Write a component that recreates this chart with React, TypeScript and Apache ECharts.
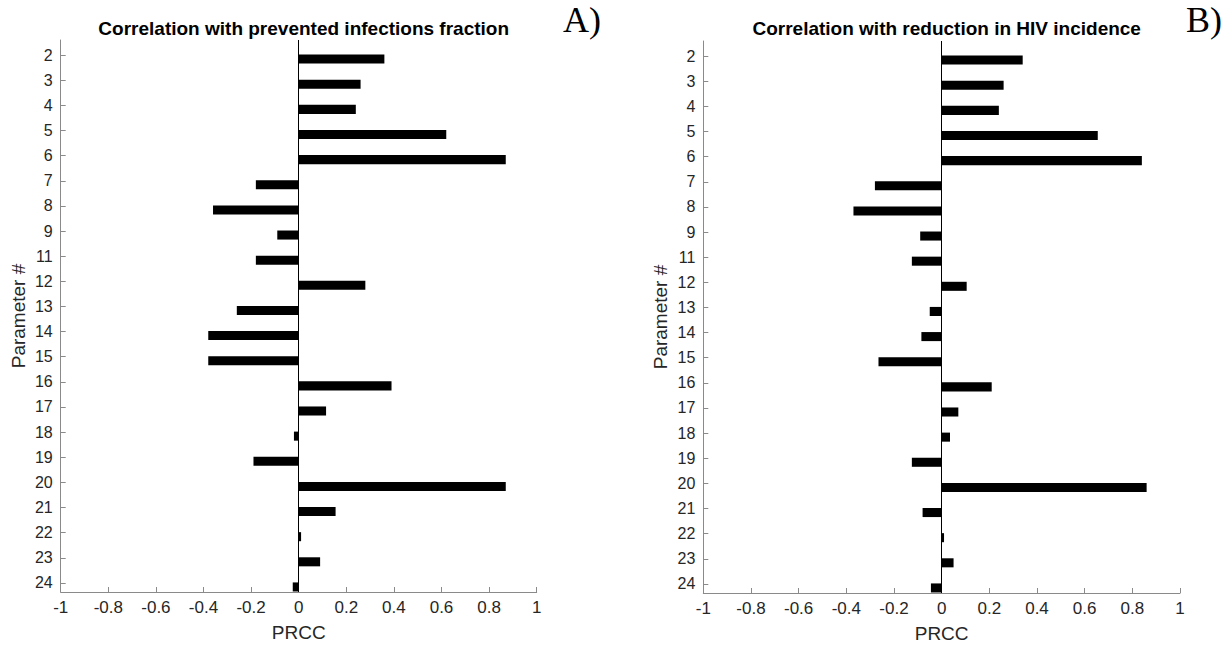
import React, { useEffect, useRef } from "react";
import * as echarts from "echarts";

const PARAMS = ["2", "3", "4", "5", "6", "7", "8", "9", "11", "12", "13", "14", "15", "16", "17", "18", "19", "20", "21", "22", "23", "24"];
const PREVENTED = [0.36, 0.26, 0.24, 0.62, 0.87, -0.18, -0.36, -0.09, -0.18, 0.28, -0.26, -0.38, -0.38, 0.39, 0.115, -0.02, -0.19, 0.87, 0.155, 0.01, 0.09, -0.025];
const REDUCTION = [0.34, 0.26, 0.24, 0.655, 0.84, -0.28, -0.37, -0.09, -0.125, 0.105, -0.05, -0.085, -0.265, 0.21, 0.07, 0.035, -0.125, 0.86, -0.08, 0.01, 0.05, -0.045];
const TITLES = ["Correlation with prevented infections fraction", "Correlation with reduction in HIV incidence"];
const PANEL_TAGS = ["A)", "B)"];
const X_NAME = "PRCC";
const Y_NAME = "Parameter #";

const FONT = "Liberation Sans, Arial, Helvetica, sans-serif";
const SERIF = "'Liberation Serif', 'Times New Roman', serif";
const AXIS_GRAY = "#8a8a8a";
const TEXT = "#262626";

const grids = [
  { left: 60.7, top: 40, width: 476, height: 552 },
  { left: 703.3, top: 41, width: 476.7, height: 552.3 },
];

const idxValues = PARAMS.map((_, i) => i);

function makeAxes(gi: number) {
  const xAxis = {
    type: "value",
    gridIndex: gi,
    position: "bottom",
    min: -1,
    max: 1,
    interval: 0.2,
    name: X_NAME,
    nameLocation: "middle",
    nameGap: 31,
    nameTextStyle: { fontFamily: FONT, fontSize: 19, color: TEXT },
    axisLine: { show: true, onZero: false, lineStyle: { color: AXIS_GRAY, width: 1 } },
    axisTick: { show: true, inside: true, length: 5, lineStyle: { color: AXIS_GRAY } },
    axisLabel: {
      fontFamily: FONT,
      fontSize: 17,
      color: TEXT,
      margin: 7,
      formatter: (v: number) => String(Math.round(v * 10) / 10),
    },
    splitLine: { show: false },
  };
  const yAxis = {
    type: "value",
    gridIndex: gi,
    position: "left",
    inverse: true,
    min: -0.6,
    max: 21.36,
    name: Y_NAME,
    nameLocation: "middle",
    nameGap: 33,
    nameTextStyle: { fontFamily: FONT, fontSize: 19, color: TEXT },
    axisLine: { show: true, onZero: false, lineStyle: { color: AXIS_GRAY, width: 1 } },
    axisTick: { show: true, inside: true, length: 5, customValues: idxValues, lineStyle: { color: AXIS_GRAY } },
    axisLabel: {
      fontFamily: FONT,
      fontSize: 16,
      color: TEXT,
      margin: 8,
      customValues: idxValues,
      formatter: (v: number) => PARAMS[Math.round(v)] ?? "",
    },
    splitLine: { show: false },
  };
  return { xAxis, yAxis };
}

const BAR_SHIFT = 4;

function renderBar(params: any, api: any) {
  const v = api.value(0);
  const idx = api.value(1);
  const p0 = api.coord([0, idx]);
  const p1 = api.coord([v, idx]);
  const h = api.size([0, 0.36])[1];
  return {
    type: "rect",
    shape: {
      x: Math.min(p0[0], p1[0]),
      y: p0[1] - h / 2 + BAR_SHIFT,
      width: Math.abs(p1[0] - p0[0]),
      height: h,
    },
    style: { fill: "#000" },
  };
}

function makeSeries(gi: number, values: number[]) {
  return {
    type: "custom",
    xAxisIndex: gi,
    yAxisIndex: gi,
    renderItem: renderBar,
    data: values.map((v, i) => [v, i]),
    markLine: {
      silent: true,
      symbol: "none",
      label: { show: false },
      lineStyle: { color: "#000", width: 1, type: "solid" },
      data: [{ xAxis: 0 }],
    },
  };
}

export default function App() {
  const ref = useRef<HTMLDivElement>(null);
  useEffect(() => {
    if (!ref.current) return;
    const chart = echarts.init(ref.current, undefined, { renderer: "svg" });
    const a0 = makeAxes(0);
    const a1 = makeAxes(1);
    chart.setOption({
      animation: false,
      backgroundColor: "#fff",
      title: [
        {
          text: TITLES[0],
          left: 298.7,
          top: 14,
          textAlign: "center",
          textStyle: { fontFamily: FONT, fontSize: 19, fontWeight: "bold", color: "#000" },
        },
        {
          text: TITLES[1],
          left: 941.7,
          top: 14,
          textAlign: "center",
          textStyle: { fontFamily: FONT, fontSize: 19, fontWeight: "bold", color: "#000" },
        },
      ],
      grid: grids.map((g) => ({ ...g, containLabel: false })),
      xAxis: [a0.xAxis, a1.xAxis],
      yAxis: [a0.yAxis, a1.yAxis],
      series: [makeSeries(0, PREVENTED), makeSeries(1, REDUCTION)],
      graphic: [
        {
          type: "text",
          left: 563,
          top: 2,
          style: { text: PANEL_TAGS[0], font: `36px ${SERIF}`, fill: "#000" },
        },
        {
          type: "text",
          left: 1186,
          top: 2,
          style: { text: PANEL_TAGS[1], font: `36px ${SERIF}`, fill: "#000" },
        },
      ],
    });
    return () => chart.dispose();
  }, []);
  return (
    <div
      ref={ref}
      style={{ position: "fixed", left: 0, top: 0, width: 1229, height: 648, background: "#fff" }}
    />
  );
}
